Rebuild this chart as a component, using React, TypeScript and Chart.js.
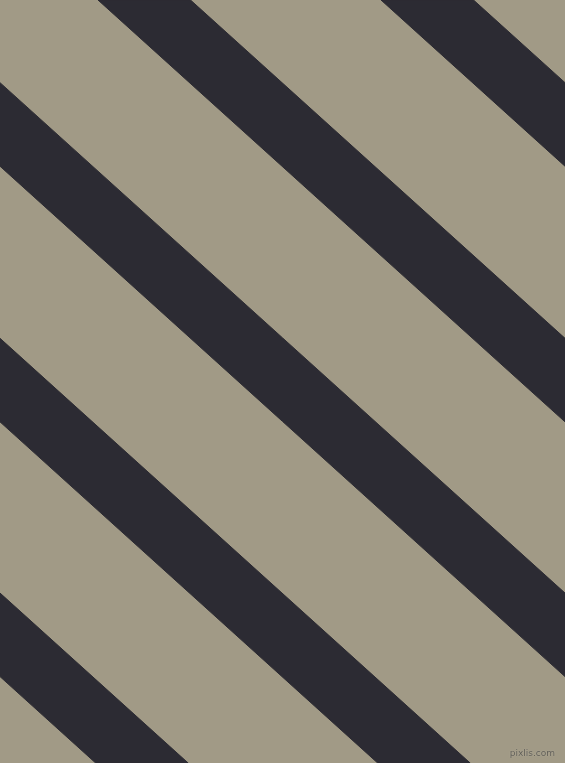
import { useEffect, useRef } from "react"
import { Chart, registerables } from "chart.js"

Chart.register(...registerables)

const WIDTH = 565
const HEIGHT = 763

// x where the left edge of each dark band meets the top border
const bandStarts = [-749, -467, -184, 98, 381]
// horizontal thickness of a band
const bandWidth = 92.5
// horizontal shift per pixel going down
const bandSlope = 1.107

const bandColor = "#2c2b33"
const groundColor = "#a19a86"

function bandPoints(start: number) {
  const shift = bandSlope * HEIGHT
  return [
    { x: start, y: 0 },
    { x: start + bandWidth, y: 0 },
    { x: start + bandWidth + shift, y: HEIGHT },
    { x: start + shift, y: HEIGHT },
    { x: start, y: 0 },
  ]
}

export default function App() {
  const chartRef = useRef<HTMLCanvasElement>(null)
  const chartInstance = useRef<Chart | null>(null)

  useEffect(() => {
    document.body.style.margin = "0"
    if (!chartRef.current) return
    const ctx = chartRef.current.getContext("2d")
    if (!ctx) return

    if (chartInstance.current) {
      chartInstance.current.destroy()
    }

    chartInstance.current = new Chart(ctx, {
      type: "line",
      data: {
        datasets: bandStarts.map((start) => ({
          data: bandPoints(start),
          borderColor: bandColor,
          borderWidth: 1,
          backgroundColor: bandColor,
          fill: "shape" as const,
          pointRadius: 0,
          tension: 0,
        })),
      },
      options: {
        responsive: false,
        animation: false,
        devicePixelRatio: 1,
        layout: { padding: 0 },
        plugins: {
          legend: { display: false },
          tooltip: { enabled: false },
        },
        scales: {
          x: { type: "linear", min: 0, max: WIDTH, display: false },
          y: { type: "linear", min: 0, max: HEIGHT, reverse: true, display: false },
        },
      },
    })

    return () => {
      if (chartInstance.current) {
        chartInstance.current.destroy()
        chartInstance.current = null
      }
    }
  }, [])

  return (
    <div style={{ position: "relative", width: WIDTH, height: HEIGHT, background: groundColor }}>
      <canvas ref={chartRef} width={WIDTH} height={HEIGHT} style={{ display: "block" }} />
      <div
        style={{
          position: "absolute",
          right: 10,
          bottom: 5,
          fontFamily: "DejaVu Sans, sans-serif",
          fontSize: 9,
          lineHeight: "10px",
          color: "#5c5a53",
          textShadow: "0 0 1px #c8c2b2",
        }}
      >
        pixlis.com
      </div>
    </div>
  )
}
